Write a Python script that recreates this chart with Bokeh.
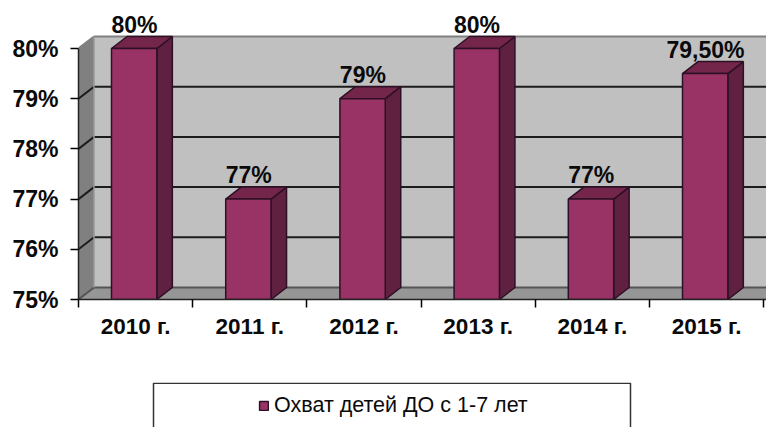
from bokeh.plotting import figure
from bokeh.layouts import column
from bokeh.models import (Range1d, LinearAxis, FixedTicker, ColumnDataSource, Legend, LegendItem,
                          CustomJSTickFormatter)
from bokeh.embed import file_html
from bokeh.resources import INLINE
from bokeh.core.properties import value

categories = ["2010 г.", "2011 г.", "2012 г.", "2013 г.", "2014 г.", "2015 г."]
coverage = [80, 77, 79, 80, 77, 79.5]
value_labels = ["80%", "77%", "79%", "80%", "77%", "79,50%"]
y_ticks = [75, 76, 77, 78, 79, 80]
series_name = "Охват детей ДО с 1-7 лет"

FONT = "Liberation Sans"
INK = "#0a0a0a"
PX_X, PX_Y = 114.2, 50.2          # pixels per category / per percent
DX, DY = 15.5 / PX_X, 12 / PX_Y   # 3-D depth in data units
BAR_L, BAR_W = 0.289, 0.397
Y0, Y1 = y_ticks[0], y_ticks[-1]

W, H_TOP, H_LEG = 766, 382, 45
ML, MB = 78, 83
XMAX = (W - ML) / PX_X
p = figure(width=W, height=H_TOP, output_backend="svg", toolbar_location=None,
           x_range=Range1d(0, XMAX), y_range=Range1d(Y0, Y0 + (H_TOP - MB) / PX_Y),
           x_axis_type=None, y_axis_type=None,
           min_border_left=ML, min_border_right=0, min_border_top=0, min_border_bottom=MB,
           outline_line_color=None, background_fill_color="white", border_fill_color="white")
p.grid.visible = False

# walls
p.quad(left=DX, right=XMAX + 1, bottom=Y0 + DY, top=Y1 + DY, fill_color="#c0c0c0", line_color=None)
p.patch([0, DX, DX, 0], [Y0, Y0 + DY, Y1 + DY, Y1], fill_color="#808080", line_color=None)
p.patch([0, DX, XMAX + 1, XMAX + 1], [Y0, Y0 + DY, Y0 + DY, Y0], fill_color="#969696", line_color=None)

# grid on walls
inner = y_ticks[1:-1]
p.segment(x0=[DX] * len(inner), x1=[XMAX + 1] * len(inner), y0=[t + DY for t in inner], y1=[t + DY for t in inner],
          line_color="#1c1c1c", line_width=2)
p.segment(x0=[0] * len(inner), x1=[DX] * len(inner), y0=inner, y1=[t + DY for t in inner],
          line_color="#1c1c1c", line_width=2)
p.segment(x0=[DX, 0], x1=[XMAX + 1, DX], y0=[Y1 + DY, Y1], y1=[Y1 + DY, Y1 + DY], line_color="#808080", line_width=2)
p.segment(x0=[DX, 0], x1=[XMAX + 1, DX], y0=[Y0 + DY, Y0], y1=[Y0 + DY, Y0 + DY], line_color="#555555", line_width=2)
p.segment(x0=[DX], x1=[DX], y0=[Y0 + DY], y1=[Y1 + DY], line_color="#9a9a9a", line_width=1.5)

# bars
lefts = [i + BAR_L for i in range(len(coverage))]
rights = [l + BAR_W for l in lefts]
edge = "#2e1026"
side_x = [[r, r + DX, r + DX, r] for r in rights]
side_y = [[Y0, Y0 + DY, v + DY, v] for v in coverage]
p.patches(side_x, side_y, fill_color="#602040", line_color=edge, line_width=1.5)
top_x = [[l, l + DX, r + DX, r] for l, r in zip(lefts, rights)]
top_y = [[v, v + DY, v + DY, v] for v in coverage]
p.patches(top_x, top_y, fill_color="#732649", line_color=edge, line_width=1.5)
p.quad(left=lefts, right=rights, bottom=Y0, top=coverage,
       fill_color="#993366", line_color=edge, line_width=1.5)

# value labels
src = ColumnDataSource(dict(x=[i + 0.49 for i in range(len(coverage))], y=coverage, t=value_labels))
p.text("x", "y", text="t", source=src, text_align="center", text_baseline="alphabetic", y_offset=-24,
       text_font=value(FONT), text_font_style="bold", text_font_size="23px", text_color=INK)

# axes
yaxis = LinearAxis(ticker=FixedTicker(ticks=y_ticks), bounds=(Y0, Y1),
                   formatter=CustomJSTickFormatter(code="return tick + '%';"),
                   major_tick_in=0, major_tick_out=8, minor_tick_line_color=None,
                   major_tick_line_color="black", major_tick_line_width=1.5,
                   axis_line_color="#222222", axis_line_width=1.5, major_label_standoff=12,
                   major_label_text_font=FONT, major_label_text_font_style="bold",
                   major_label_text_font_size="23px", major_label_text_color=INK)
p.add_layout(yaxis, "left")

xaxis = LinearAxis(ticker=FixedTicker(ticks=[i + 0.5 for i in range(len(categories))],
                                      minor_ticks=list(range(len(categories) + 1))),
                   major_label_overrides={i + 0.5: c for i, c in enumerate(categories)},
                   major_tick_line_color=None, major_tick_in=0, major_tick_out=8,
                   minor_tick_in=0, minor_tick_out=8, minor_tick_line_color="black", minor_tick_line_width=1.5,
                   axis_line_color="#222222", axis_line_width=1.5, major_label_standoff=6,
                   major_label_text_font=FONT, major_label_text_font_style="bold",
                   major_label_text_font_size="22.5px", major_label_text_color=INK)
p.add_layout(xaxis, "below")

# legend panel: a box whose bottom runs off the page (its frame is aligned with the chart's frame)
leg_fig = figure(width=W, height=H_LEG, output_backend="svg", toolbar_location=None,
                 x_range=Range1d(ML, W), y_range=Range1d(0, H_LEG), x_axis_type=None, y_axis_type=None,
                 min_border_left=ML, min_border_right=0, min_border_top=0, min_border_bottom=0,
                 outline_line_color=None, background_fill_color="white", border_fill_color="white")
leg_fig.grid.visible = False
leg_fig.line([153, 153, 630, 630], [0, H_LEG - 0.75, H_LEG - 0.75, 0], line_color="#333333", line_width=1.5)
swatch = leg_fig.quad(left=[-20], right=[-10], bottom=[0], top=[10], fill_color="#993366", line_color=edge, line_width=1.5)
leg = Legend(items=[LegendItem(label=series_name, renderers=[swatch])],
             location=(180, 9), border_line_color=None, background_fill_alpha=0,
             padding=0, margin=0, glyph_width=11, glyph_height=11, label_standoff=5,
             label_text_font=FONT, label_text_font_size="21.5px", label_text_color=INK)
leg_fig.add_layout(leg)

open("out.html", "w").write(file_html(column(p, leg_fig, spacing=0), INLINE))
